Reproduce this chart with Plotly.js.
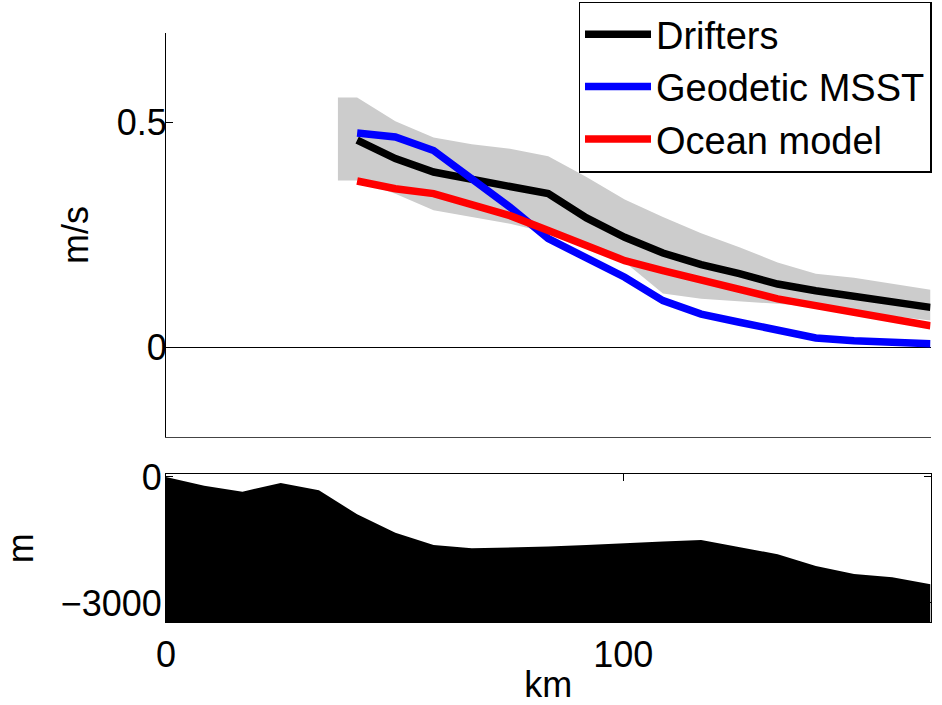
<!DOCTYPE html>
<html>
<head>
<meta charset="utf-8">
<script src="https://cdn.plot.ly/plotly-3.0.1.min.js"></script>
<style>html,body{margin:0;padding:0;background:#fff;}#chart{width:942px;height:705px;}</style>
</head>
<body>
<div id="chart"></div>
<script>
// Distance along section (km) for bathymetry
const bathyKm = [0, 8.36, 16.72, 25.08, 33.44, 41.8, 50.16, 58.52, 66.88, 75.24, 83.6,
  91.96, 100.32, 108.68, 117.04, 125.4, 133.76, 142.12, 150.48, 158.84, 167.2];
// Bottom depth (m)
const depth = [0, -207, -350, -143, -317, -888, -1326, -1619, -1698, -1679, -1655,
  -1619, -1571, -1536, -1500, -1667, -1840, -2119, -2310, -2388, -2555];

// Distance (km) for velocity profiles
const velKm = [41.8, 50.16, 58.52, 66.88, 75.24, 83.6, 91.96, 100.32, 108.68, 117.04,
  125.4, 133.76, 142.12, 150.48, 158.84, 167.2];
const drifters = [0.461, 0.420, 0.390, 0.375, 0.360, 0.342, 0.288, 0.245, 0.210, 0.184,
  0.164, 0.141, 0.126, 0.115, 0.102, 0.089];
const geodetic = [0.477, 0.468, 0.438, 0.377, 0.312, 0.242, 0.197, 0.156, 0.104, 0.074,
  0.056, 0.037, 0.021, 0.015, 0.011, 0.008];
const oceanModel = [0.370, 0.353, 0.342, 0.316, 0.293, 0.260, 0.227, 0.193, 0.171, 0.150,
  0.130, 0.108, 0.093, 0.078, 0.063, 0.048];

// Drifter uncertainty band
const bandKm = [37.6, 41.8, 50.16, 58.52, 66.88, 75.24, 83.6, 91.96, 100.32, 108.68, 117.04,
  125.4, 133.76, 142.12, 150.48, 158.84, 167.2];
const bandUpper = [0.556, 0.556, 0.503, 0.467, 0.452, 0.442, 0.425, 0.379, 0.329, 0.290, 0.254,
  0.223, 0.189, 0.164, 0.155, 0.141, 0.128];
const bandLower = [0.371, 0.371, 0.342, 0.305, 0.290, 0.275, 0.255, 0.230, 0.190, 0.120, 0.108,
  0.103, 0.097, 0.090, 0.080, 0.070, 0.060];

const seriesNames = ['Drifters', 'Geodetic MSST', 'Ocean model'];
const xTicks = [0, 100];
const velTicks = [0, 0.5];
const depthTicks = [0, -3000];

const depthFloor = -3460;
const FONT = 'Liberation Sans, Arial, sans-serif';
const FS = 36;
const LFS = 38;

const traces = [
  {
    x: bandKm.concat(bandKm.slice().reverse()),
    y: bandUpper.concat(bandLower.slice().reverse()),
    xaxis: 'x', yaxis: 'y',
    type: 'scatter', mode: 'lines', fill: 'toself',
    fillcolor: '#cccccc', line: {width: 0, color: '#cccccc'},
    showlegend: false, hoverinfo: 'skip'
  },
  {x: velKm, y: drifters, name: seriesNames[0], type: 'scatter', mode: 'lines',
   line: {color: '#000000', width: 7.5}, xaxis: 'x', yaxis: 'y'},
  {x: velKm, y: geodetic, name: seriesNames[1], type: 'scatter', mode: 'lines',
   line: {color: '#0000ff', width: 7.5}, xaxis: 'x', yaxis: 'y'},
  {x: velKm, y: oceanModel, name: seriesNames[2], type: 'scatter', mode: 'lines',
   line: {color: '#ff0000', width: 7.5}, xaxis: 'x', yaxis: 'y'},
  {
    x: bathyKm.concat([bathyKm[bathyKm.length - 1], bathyKm[0]]),
    y: depth.concat([depthFloor, depthFloor]),
    xaxis: 'x2', yaxis: 'y2',
    type: 'scatter', mode: 'lines', fill: 'toself',
    fillcolor: '#000000', line: {width: 0, color: '#000000'},
    showlegend: false, hoverinfo: 'skip'
  }
];

const xDom = [166 / 942, 930.5 / 942];
const layout = {
  width: 942, height: 705,
  margin: {l: 0, r: 0, t: 0, b: 0},
  paper_bgcolor: '#ffffff', plot_bgcolor: 'rgba(0,0,0,0)',
  font: {family: FONT, size: FS, color: '#000000'},
  showlegend: true,
  legend: {
    x: 931.5 / 942, xanchor: 'right', y: 1 - 1.5 / 705, yanchor: 'top',
    bgcolor: '#ffffff', bordercolor: '#000000', borderwidth: 1.5,
    font: {family: FONT, size: LFS, color: '#000000'},
    tracegroupgap: 0, itemwidth: 66
  },
  xaxis: {
    domain: xDom, range: [0, 167.2], anchor: 'y',
    showgrid: false, zeroline: false, showline: true, linecolor: '#444444', linewidth: 1,
    showticklabels: false, ticks: '', mirror: false
  },
  yaxis: {
    domain: [1 - 437.3 / 705, 1 - 32.7 / 705], range: [-0.2, 0.7], anchor: 'x',
    showgrid: false, zeroline: true, zerolinecolor: '#000000', zerolinewidth: 1,
    showline: true, linecolor: '#000000', linewidth: 1,
    ticks: 'inside', ticklen: 7, tickwidth: 1, tickcolor: '#000000',
    tickvals: velTicks, ticktext: ['0', '0.5'], ticklabelstandoff: -9,
    title: {text: 'm/s', font: {family: FONT, size: FS}, standoff: 17}
  },
  xaxis2: {
    domain: xDom, range: [0, 167.2], anchor: 'y2',
    showgrid: false, zeroline: false, showline: true, linecolor: '#000000', linewidth: 1,
    mirror: 'ticks', ticks: 'inside', ticklen: 7, tickwidth: 1, tickcolor: '#000000',
    tickvals: xTicks, ticklabelstandoff: 0,
    title: {text: 'km', font: {family: FONT, size: FS}, standoff: 2}
  },
  yaxis2: {
    domain: [1 - 622.3 / 705, 1 - 474.3 / 705], range: [depthFloor, 64], anchor: 'x2',
    showgrid: false, zeroline: false, showline: true, linecolor: '#000000', linewidth: 1,
    mirror: 'ticks', ticks: 'inside', ticklen: 7, tickwidth: 1, tickcolor: '#000000',
    tickvals: depthTicks, ticklabelstandoff: -4,
    title: {text: 'm', font: {family: FONT, size: FS}, standoff: 20}
  }
};

Plotly.newPlot('chart', traces, layout, {staticPlot: true, displayModeBar: false});
</script>
</body>
</html>
